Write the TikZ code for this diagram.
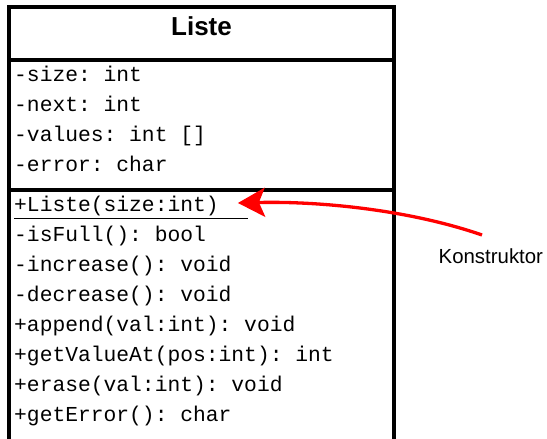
\documentclass[tikz,border=0pt]{standalone}
\usepackage{fontspec}
\setmainfont{Liberation Sans}
\setmonofont{Liberation Mono}
\usetikzlibrary{arrows.meta}

\begin{document}
\begin{tikzpicture}[x=1pt, y=-1pt, every node/.style={inner sep=0pt}, member/.style={anchor=base west, font=\fontsize{21.3}{21.3}\selectfont\ttfamily}, frame/.style={line width=3.5pt}]
    \useasboundingbox (0,0) rectangle (547,439);
    \clip (0,0) rectangle (547,439);

    % Class box.
    \draw[frame] (9,460) -- (9,7) -- (394,7) -- (394,460);
    \draw[frame] (9,60) -- (394,60);
    \draw[frame] (9,190) -- (394,190);
    \node[font=\fontsize{26}{26}\selectfont\bfseries, anchor=base] (title) at (201.5,35.5) {Liste};

    % Attributes.
    \foreach \txt [count=\i] in {-size: int, -next: int, -values: int [], -error: char}
        \node[member] (A-\i) at (14,51.5+30*\i) {\txt};

    % Methods.
    \node[member] (ctor) at (14,211.5) {+Liste(size:int)};
    \draw[line width=1.8pt] (14,218.5) -- (248,218.5);
    \foreach \txt [count=\i] in {-isFull(): bool, -increase(): void, -decrease(): void, +append(val:int): void, +getValueAt(pos:int): int, +erase(val:int): void, +getError(): char}
        \node[member] (M-\i) at (14,211.5+30*\i) {\txt};

    % Note.
    \node[font=\fontsize{20.4}{20.4}\selectfont, anchor=base west] (konstr) at (438.5,263) {Konstruktor};
    \coordinate (tail) at (482,235);
    \draw[red, line width=3.3pt, -{Stealth[length=27pt, width=29pt, inset=6pt]}] (tail) .. controls (410,210) and (320,201) .. ([shift={(19,-3)}]ctor.east);

\end{tikzpicture}
\end{document}
